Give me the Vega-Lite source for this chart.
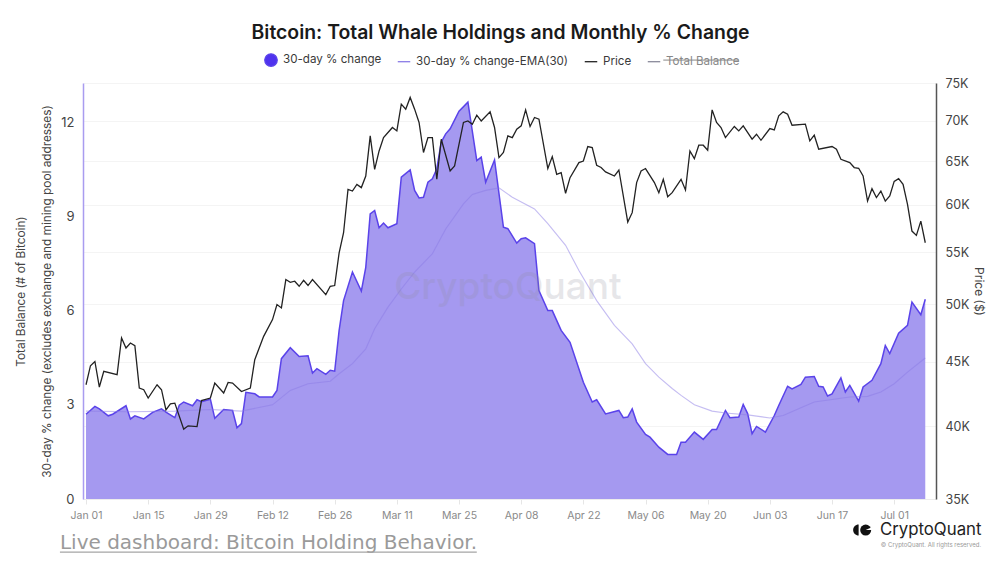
{"$schema":"https://vega.github.io/schema/vega-lite/v6.json","width":853,"height":416,"autosize":"none","padding":{"left":83,"top":83,"right":64,"bottom":70},"background":"#ffffff","config":{"font":"Inter","view":{"stroke":null}},
"title":{"text":"Bitcoin: Total Whale Holdings and Monthly % Change","font":"Inter","fontSize":19.4,"fontWeight":600,"color":"#1a1a1a","anchor":"middle","frame":"group","dx":-9,"offset":10},
"datasets":{"blank":[{}],"change":[{"d":"2024-01-01","v":2.70},{"d":"2024-01-03","v":2.95},{"d":"2024-01-04","v":2.87},{"d":"2024-01-06","v":2.65},{"d":"2024-01-07","v":2.70},{"d":"2024-01-10","v":2.97},{"d":"2024-01-11","v":2.55},{"d":"2024-01-12","v":2.65},{"d":"2024-01-14","v":2.55},{"d":"2024-01-16","v":2.76},{"d":"2024-01-18","v":2.87},{"d":"2024-01-19","v":2.77},{"d":"2024-01-21","v":2.59},{"d":"2024-01-22","v":2.99},{"d":"2024-01-23","v":3.09},{"d":"2024-01-25","v":2.97},{"d":"2024-01-26","v":3.16},{"d":"2024-01-27","v":3.10},{"d":"2024-01-29","v":3.18},{"d":"2024-01-30","v":2.57},{"d":"2024-02-01","v":2.85},{"d":"2024-02-03","v":2.82},{"d":"2024-02-04","v":2.27},{"d":"2024-02-05","v":2.40},{"d":"2024-02-06","v":3.40},{"d":"2024-02-08","v":3.35},{"d":"2024-02-09","v":3.25},{"d":"2024-02-12","v":3.25},{"d":"2024-02-13","v":3.46},{"d":"2024-02-14","v":4.47},{"d":"2024-02-16","v":4.82},{"d":"2024-02-18","v":4.54},{"d":"2024-02-20","v":4.56},{"d":"2024-02-21","v":4.01},{"d":"2024-02-22","v":4.15},{"d":"2024-02-24","v":3.97},{"d":"2024-02-25","v":4.10},{"d":"2024-02-26","v":4.07},{"d":"2024-02-27","v":5.37},{"d":"2024-02-28","v":6.32},{"d":"2024-03-01","v":7.23},{"d":"2024-03-03","v":6.62},{"d":"2024-03-04","v":7.38},{"d":"2024-03-05","v":9.08},{"d":"2024-03-06","v":9.19},{"d":"2024-03-07","v":8.64},{"d":"2024-03-08","v":8.79},{"d":"2024-03-09","v":8.64},{"d":"2024-03-11","v":8.77},{"d":"2024-03-12","v":10.25},{"d":"2024-03-14","v":10.48},{"d":"2024-03-15","v":9.83},{"d":"2024-03-16","v":9.59},{"d":"2024-03-17","v":9.61},{"d":"2024-03-18","v":10.09},{"d":"2024-03-19","v":10.2},{"d":"2024-03-20","v":10.52},{"d":"2024-03-21","v":11.37},{"d":"2024-03-22","v":11.63},{"d":"2024-03-23","v":11.79},{"d":"2024-03-25","v":12.35},{"d":"2024-03-27","v":12.64},{"d":"2024-03-29","v":10.78},{"d":"2024-03-30","v":10.89},{"d":"2024-03-31","v":10.09},{"d":"2024-04-02","v":10.80},{"d":"2024-04-04","v":8.66},{"d":"2024-04-05","v":8.61},{"d":"2024-04-07","v":8.15},{"d":"2024-04-08","v":8.29},{"d":"2024-04-09","v":8.32},{"d":"2024-04-11","v":8.13},{"d":"2024-04-12","v":6.64},{"d":"2024-04-14","v":6.0},{"d":"2024-04-15","v":6.0},{"d":"2024-04-17","v":5.37},{"d":"2024-04-19","v":4.99},{"d":"2024-04-22","v":3.72},{"d":"2024-04-24","v":3.09},{"d":"2024-04-25","v":3.16},{"d":"2024-04-27","v":2.71},{"d":"2024-04-30","v":2.82},{"d":"2024-05-01","v":2.59},{"d":"2024-05-02","v":2.61},{"d":"2024-05-03","v":2.87},{"d":"2024-05-04","v":2.45},{"d":"2024-05-06","v":2.06},{"d":"2024-05-07","v":1.97},{"d":"2024-05-09","v":1.65},{"d":"2024-05-11","v":1.42},{"d":"2024-05-13","v":1.42},{"d":"2024-05-14","v":1.81},{"d":"2024-05-15","v":1.81},{"d":"2024-05-17","v":2.13},{"d":"2024-05-19","v":1.90},{"d":"2024-05-21","v":2.21},{"d":"2024-05-22","v":2.21},{"d":"2024-05-24","v":2.82},{"d":"2024-05-25","v":2.59},{"d":"2024-05-27","v":2.61},{"d":"2024-05-28","v":3.01},{"d":"2024-05-29","v":2.72},{"d":"2024-05-30","v":2.08},{"d":"2024-05-31","v":2.31},{"d":"2024-06-02","v":2.13},{"d":"2024-06-04","v":2.66},{"d":"2024-06-05","v":2.98},{"d":"2024-06-07","v":3.59},{"d":"2024-06-08","v":3.51},{"d":"2024-06-10","v":3.65},{"d":"2024-06-11","v":3.88},{"d":"2024-06-13","v":3.90},{"d":"2024-06-14","v":3.59},{"d":"2024-06-15","v":3.57},{"d":"2024-06-16","v":3.28},{"d":"2024-06-17","v":3.35},{"d":"2024-06-19","v":3.86},{"d":"2024-06-20","v":3.41},{"d":"2024-06-21","v":3.62},{"d":"2024-06-23","v":3.12},{"d":"2024-06-24","v":3.57},{"d":"2024-06-26","v":3.78},{"d":"2024-06-28","v":4.31},{"d":"2024-06-29","v":4.89},{"d":"2024-06-30","v":4.63},{"d":"2024-07-02","v":5.28},{"d":"2024-07-04","v":5.53},{"d":"2024-07-05","v":6.27},{"d":"2024-07-07","v":5.87},{"d":"2024-07-08","v":6.36}],
"ema":[{"d":"2024-01-01","v":2.80},{"d":"2024-01-11","v":2.78},{"d":"2024-01-21","v":2.80},{"d":"2024-01-29","v":2.85},{"d":"2024-02-05","v":2.80},{"d":"2024-02-12","v":3.0},{"d":"2024-02-16","v":3.46},{"d":"2024-02-20","v":3.67},{"d":"2024-02-25","v":3.75},{"d":"2024-02-27","v":3.99},{"d":"2024-03-01","v":4.31},{"d":"2024-03-04","v":4.78},{"d":"2024-03-06","v":5.42},{"d":"2024-03-09","v":6.11},{"d":"2024-03-12","v":6.69},{"d":"2024-03-15","v":7.23},{"d":"2024-03-19","v":7.81},{"d":"2024-03-22","v":8.6},{"d":"2024-03-26","v":9.4},{"d":"2024-03-28","v":9.7},{"d":"2024-03-31","v":9.83},{"d":"2024-04-03","v":9.91},{"d":"2024-04-06","v":9.61},{"d":"2024-04-11","v":9.24},{"d":"2024-04-14","v":8.77},{"d":"2024-04-18","v":8.08},{"d":"2024-04-21","v":7.28},{"d":"2024-04-25","v":6.32},{"d":"2024-04-29","v":5.53},{"d":"2024-05-03","v":4.94},{"d":"2024-05-06","v":4.31},{"d":"2024-05-09","v":3.88},{"d":"2024-05-12","v":3.52},{"d":"2024-05-14","v":3.3},{"d":"2024-05-17","v":3.0},{"d":"2024-05-21","v":2.8},{"d":"2024-05-24","v":2.74},{"d":"2024-05-29","v":2.68},{"d":"2024-06-03","v":2.58},{"d":"2024-06-06","v":2.66},{"d":"2024-06-10","v":2.91},{"d":"2024-06-13","v":3.09},{"d":"2024-06-17","v":3.17},{"d":"2024-06-21","v":3.25},{"d":"2024-06-25","v":3.27},{"d":"2024-06-28","v":3.41},{"d":"2024-07-01","v":3.67},{"d":"2024-07-04","v":4.04},{"d":"2024-07-08","v":4.49}],
"price":[{"d":"2024-01-01","v":43150},{"d":"2024-01-02","v":44680},{"d":"2024-01-03","v":45030},{"d":"2024-01-04","v":42970},{"d":"2024-01-05","v":44220},{"d":"2024-01-08","v":43950},{"d":"2024-01-09","v":47010},{"d":"2024-01-10","v":46150},{"d":"2024-01-11","v":46580},{"d":"2024-01-12","v":46350},{"d":"2024-01-13","v":42890},{"d":"2024-01-14","v":42760},{"d":"2024-01-15","v":42110},{"d":"2024-01-17","v":43150},{"d":"2024-01-18","v":42760},{"d":"2024-01-19","v":41210},{"d":"2024-01-20","v":41670},{"d":"2024-01-21","v":41720},{"d":"2024-01-23","v":39780},{"d":"2024-01-24","v":40020},{"d":"2024-01-26","v":39970},{"d":"2024-01-27","v":41920},{"d":"2024-01-29","v":42110},{"d":"2024-01-30","v":43280},{"d":"2024-02-01","v":42500},{"d":"2024-02-02","v":43330},{"d":"2024-02-03","v":43280},{"d":"2024-02-05","v":42620},{"d":"2024-02-07","v":42890},{"d":"2024-02-08","v":45170},{"d":"2024-02-10","v":47150},{"d":"2024-02-12","v":48620},{"d":"2024-02-13","v":49980},{"d":"2024-02-14","v":49670},{"d":"2024-02-15","v":52320},{"d":"2024-02-16","v":52060},{"d":"2024-02-17","v":52160},{"d":"2024-02-18","v":51680},{"d":"2024-02-19","v":52250},{"d":"2024-02-20","v":51750},{"d":"2024-02-21","v":52320},{"d":"2024-02-24","v":50900},{"d":"2024-02-25","v":51680},{"d":"2024-02-26","v":51750},{"d":"2024-02-27","v":54950},{"d":"2024-02-28","v":57010},{"d":"2024-02-29","v":61720},{"d":"2024-03-01","v":61530},{"d":"2024-03-02","v":62290},{"d":"2024-03-03","v":61920},{"d":"2024-03-04","v":63250},{"d":"2024-03-05","v":68070},{"d":"2024-03-06","v":64030},{"d":"2024-03-07","v":66220},{"d":"2024-03-08","v":67860},{"d":"2024-03-10","v":69130},{"d":"2024-03-11","v":68700},{"d":"2024-03-12","v":72150},{"d":"2024-03-13","v":71490},{"d":"2024-03-14","v":73040},{"d":"2024-03-15","v":71490},{"d":"2024-03-16","v":69770},{"d":"2024-03-17","v":66030},{"d":"2024-03-18","v":67860},{"d":"2024-03-19","v":67860},{"d":"2024-03-20","v":62870},{"d":"2024-03-21","v":67660},{"d":"2024-03-23","v":63830},{"d":"2024-03-24","v":64420},{"d":"2024-03-26","v":69770},{"d":"2024-03-27","v":69970},{"d":"2024-03-28","v":69550},{"d":"2024-03-29","v":70710},{"d":"2024-03-30","v":69970},{"d":"2024-04-01","v":71140},{"d":"2024-04-02","v":69130},{"d":"2024-04-03","v":65420},{"d":"2024-04-04","v":66030},{"d":"2024-04-05","v":68070},{"d":"2024-04-06","v":67860},{"d":"2024-04-07","v":68910},{"d":"2024-04-08","v":69340},{"d":"2024-04-09","v":71400},{"d":"2024-04-10","v":69260},{"d":"2024-04-11","v":70410},{"d":"2024-04-12","v":70190},{"d":"2024-04-14","v":64120},{"d":"2024-04-15","v":65540},{"d":"2024-04-16","v":63450},{"d":"2024-04-17","v":63640},{"d":"2024-04-18","v":61280},{"d":"2024-04-19","v":63060},{"d":"2024-04-21","v":64820},{"d":"2024-04-22","v":65010},{"d":"2024-04-23","v":66760},{"d":"2024-04-24","v":66630},{"d":"2024-04-25","v":64510},{"d":"2024-04-26","v":64240},{"d":"2024-04-27","v":63720},{"d":"2024-04-29","v":63250},{"d":"2024-04-30","v":63950},{"d":"2024-05-02","v":58130},{"d":"2024-05-03","v":59140},{"d":"2024-05-04","v":62490},{"d":"2024-05-05","v":63830},{"d":"2024-05-06","v":64120},{"d":"2024-05-08","v":62490},{"d":"2024-05-09","v":61350},{"d":"2024-05-10","v":62870},{"d":"2024-05-11","v":60900},{"d":"2024-05-12","v":61350},{"d":"2024-05-14","v":62870},{"d":"2024-05-15","v":61650},{"d":"2024-05-16","v":66220},{"d":"2024-05-17","v":65300},{"d":"2024-05-18","v":66920},{"d":"2024-05-19","v":66920},{"d":"2024-05-20","v":66300},{"d":"2024-05-21","v":71400},{"d":"2024-05-22","v":69770},{"d":"2024-05-23","v":69130},{"d":"2024-05-24","v":67860},{"d":"2024-05-26","v":69260},{"d":"2024-05-27","v":68700},{"d":"2024-05-28","v":69340},{"d":"2024-05-30","v":67660},{"d":"2024-05-31","v":68280},{"d":"2024-06-01","v":67530},{"d":"2024-06-03","v":69000},{"d":"2024-06-04","v":68820},{"d":"2024-06-05","v":70620},{"d":"2024-06-06","v":71140},{"d":"2024-06-07","v":70830},{"d":"2024-06-08","v":69420},{"d":"2024-06-11","v":69550},{"d":"2024-06-12","v":67450},{"d":"2024-06-13","v":68160},{"d":"2024-06-14","v":66430},{"d":"2024-06-17","v":66760},{"d":"2024-06-18","v":66430},{"d":"2024-06-19","v":65220},{"d":"2024-06-21","v":64820},{"d":"2024-06-22","v":64240},{"d":"2024-06-23","v":64150},{"d":"2024-06-24","v":63250},{"d":"2024-06-25","v":60410},{"d":"2024-06-26","v":61800},{"d":"2024-06-27","v":60800},{"d":"2024-06-28","v":61530},{"d":"2024-06-29","v":60410},{"d":"2024-06-30","v":60970},{"d":"2024-07-01","v":62630},{"d":"2024-07-02","v":62950},{"d":"2024-07-03","v":62290},{"d":"2024-07-04","v":60050},{"d":"2024-07-05","v":57180},{"d":"2024-07-06","v":56730},{"d":"2024-07-07","v":58230},{"d":"2024-07-08","v":55970}]},
"resolve":{"scale":{"y":"independent"}},
"layer":[
{"layer":[
{"data":{"name":"change"},"mark":{"type":"area","color":"#a599f0","opacity":1},
 "encoding":{"x":{"field":"d","type":"temporal","title":null,"scale":{"type":"utc","domain":["2023-12-31T07:40:00Z","2024-07-10T10:00:00Z"]},
   "axis":{"values":["2024-01-01","2024-01-15","2024-01-29","2024-02-12","2024-02-26","2024-03-11","2024-03-25","2024-04-08","2024-04-22","2024-05-06","2024-05-20","2024-06-03","2024-06-17","2024-07-01"],"format":"%b %d","labelAngle":0,"labelFont":"Inter","labelFontSize":10.5,"labelColor":"#8a8a8a","labelPadding":6,"tickColor":"#e6e6e6","tickSize":5,"domainColor":"#ececec","grid":false,"labelFlush":false}},
  "y":{"field":"v","type":"quantitative","scale":{"domain":[0,13.25],"nice":false},
   "axis":{"orient":"left","values":[0,3,6,9,12],"title":["Total Balance (# of Bitcoin)","30-day % change (excludes exchange and mining pool addresses)"],"titleFont":"Inter","titleFontSize":11.8,"titleFontWeight":400,"titleColor":"#444444","titleLineHeight":26,"titlePadding":8,"labelFont":"Inter","labelFontSize":13,"labelColor":"#444444","labelPadding":9,"ticks":false,"domainColor":"#a99cf0","domainWidth":1.5,"grid":false}}}},
{"data":{"name":"change"},"mark":{"type":"line","strokeWidth":1.5},
 "encoding":{"x":{"field":"d","type":"temporal"},"y":{"field":"v","type":"quantitative"},
  "color":{"datum":"30-day % change","scale":{"domain":["30-day % change","30-day % change-EMA(30)","Price","Total Balance"],"range":["#5a43ea","#8b7ce6","#222222","#8a8a9a"]},
   "legend":{"orient":"none","direction":"horizontal","legendX":181,"legendY":-30,"title":null,"symbolSize":156,"symbolStrokeWidth":1.3,"labelFont":"Inter","labelFontSize":11.6,"labelColor":"#3a3a3a","labelOffset":5,"labelLimit":300,"columnPadding":13,"symbolLimit":4,"encode":{"symbols":{"update":{"shape":{"signal":"datum.value==='30-day % change'?'circle':'stroke'"},"fill":{"signal":"datum.value==='30-day % change'?'#4f32ee':'transparent'"},"stroke":{"signal":"datum.value==='30-day % change'?'#4f32ee':datum.value==='30-day % change-EMA(30)'?'#cfc8f5':datum.value==='Price'?'#333333':'#9a9aa8'"}}},"labels":{"update":{"fill":{"signal":"datum.value==='Total Balance'?'#888888':'#3a3a3a'"}}}}}}}},
{"data":{"name":"ema"},"mark":{"type":"line","strokeWidth":1.1,"opacity":0.5},
 "encoding":{"x":{"field":"d","type":"temporal"},"y":{"field":"v","type":"quantitative"},"color":{"datum":"30-day % change-EMA(30)"}}},
{"data":{"name":"blank"},"mark":{"type":"text","font":"Inter","fontSize":37,"fontWeight":500,"color":"#8f8fa0","opacity":0.22,"align":"center","baseline":"middle"},
 "encoding":{"x":{"datum":{"year":2024,"month":4,"date":5,"utc":true},"type":"temporal"},"y":{"datum":6.72},"text":{"value":"CryptoQuant"}}},
{"data":{"name":"blank"},"mark":{"type":"rule","color":"#888888","strokeWidth":1},"encoding":{"x":{"datum":{"year":2024,"month":5,"date":10,"utc":true},"type":"temporal"},"x2":{"datum":{"year":2024,"month":5,"date":27,"utc":true}},"y":{"datum":13.98}}},
{"data":{"name":"blank"},"mark":{"type":"text","font":"DejaVu Sans","fontSize":20,"color":"#9a9a9a","align":"left","baseline":"alphabetic"},
 "encoding":{"x":{"datum":{"year":2023,"month":12,"date":26,"hours":3,"utc":true},"type":"temporal"},"y":{"datum":-1.59},"text":{"value":"Live dashboard: Bitcoin Holding Behavior."}}},
{"data":{"name":"blank"},"mark":{"type":"rule","color":"#a5a5a5","strokeWidth":1.2},"encoding":{"x":{"datum":{"year":2023,"month":12,"date":26,"hours":3,"utc":true},"type":"temporal"},"x2":{"datum":{"year":2024,"month":3,"date":29,"utc":true}},"y":{"datum":-1.69}}},
{"data":{"name":"blank"},"mark":{"type":"text","font":"Inter","fontSize":16.8,"fontWeight":400,"color":"#222222","align":"left","baseline":"middle"},
 "encoding":{"x":{"datum":{"year":2024,"month":6,"date":27,"hours":19,"utc":true},"type":"temporal"},"y":{"datum":-0.99},"text":{"value":"CryptoQuant"}}},
{"data":{"name":"blank"},"mark":{"type":"text","font":"Inter","fontSize":6,"color":"#999999","align":"left","baseline":"middle"},
 "encoding":{"x":{"datum":{"year":2024,"month":6,"date":28,"utc":true},"type":"temporal"},"y":{"datum":-1.47},"text":{"value":"© CryptoQuant. All rights reserved."}}},
{"data":{"name":"blank"},"mark":{"type":"point","filled":true,"opacity":1,"color":"#111111","shape":"M 1 -1 A 1 1 0 0 0 1 1 Z","size":121},
 "encoding":{"x":{"datum":{"year":2024,"month":6,"date":21,"hours":18,"utc":true},"type":"temporal"},"y":{"datum":-0.99}}},
{"data":{"name":"blank"},"mark":{"type":"point","filled":true,"opacity":1,"color":"#111111","shape":"circle","size":121},
 "encoding":{"x":{"datum":{"year":2024,"month":6,"date":24,"hours":14,"utc":true},"type":"temporal"},"y":{"datum":-0.99}}},
{"data":{"name":"blank"},"mark":{"type":"point","filled":true,"opacity":1,"color":"#ffffff","shape":"M 0 0 L 1.2 -0.55 L 1.2 0 Z","size":121},
 "encoding":{"x":{"datum":{"year":2024,"month":6,"date":24,"hours":14,"utc":true},"type":"temporal"},"y":{"datum":-0.99}}}
]},
{"data":{"name":"price"},"mark":{"type":"line","strokeWidth":1.3},
 "encoding":{"x":{"field":"d","type":"temporal"},
  "y":{"field":"v","type":"quantitative","scale":{"type":"log","domain":[35000,75000],"nice":false},
   "axis":{"orient":"right","values":[35000,40000,45000,50000,55000,60000,65000,70000,75000],"labelExpr":"(datum.value/1000)+'K'","title":"Price ($)","titleAngle":90,"titleFont":"Inter","titleFontSize":12,"titleFontWeight":400,"titleColor":"#444444","titlePadding":2,"labelFont":"Inter","labelFontSize":12.5,"labelColor":"#444444","labelPadding":9,"ticks":false,"domainColor":"#555555","domainWidth":1.5,"grid":true,"gridColor":"#f4f4f4"}},
  "color":{"datum":"Price"}}}
]}
